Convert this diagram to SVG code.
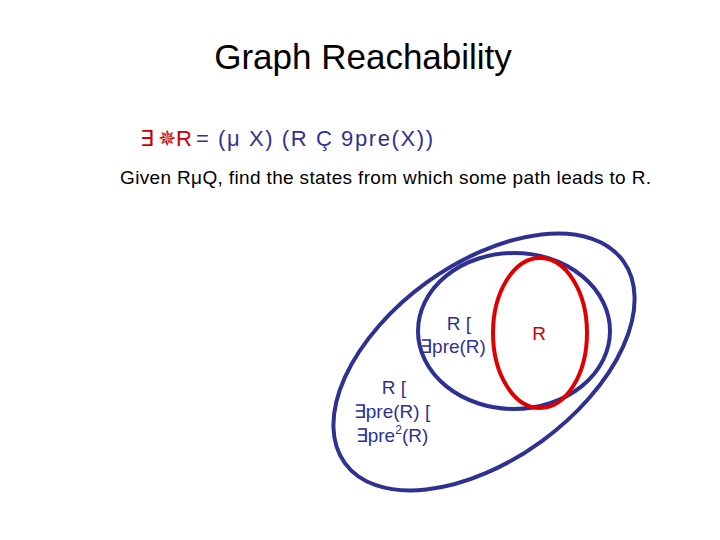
<svg xmlns="http://www.w3.org/2000/svg" width="720" height="540" viewBox="0 0 720 540">
<style>
text{font-family:"Liberation Sans",Arial,sans-serif}
.b{fill:none;stroke:#2e3192;stroke-width:4}
.l{font-size:19px;fill:#2e3192}
</style>
<rect width="720" height="540" fill="#fff"/>
<text x="363" y="69" font-size="35" text-anchor="middle">Graph Reachability</text>
<text x="140" y="146" font-size="22" fill="#cc0000">∃</text>
<text x="158" y="146" font-size="22" fill="#cc0000">✵R</text>
<text x="196" y="146" font-size="22" fill="#2e3192">=</text>
<text x="218" y="146" font-size="22" fill="#2e3192" textLength="215">(μ X) (R Ç 9pre(X))</text>
<text x="120" y="184" font-size="19" textLength="531">Given RμQ, find the states from which some path leads to R.</text>
<g id="outer"><ellipse class="b" cx="484" cy="362" rx="172" ry="98" transform="rotate(-36 484 362)"/></g>
<g id="middle"><ellipse class="b" cx="514" cy="331" rx="96" ry="78"/></g>
<g id="red"><ellipse cx="540" cy="333" rx="47" ry="75" fill="none" stroke="#e00000" stroke-width="4"/></g>
<text class="l" x="459" y="330" text-anchor="middle">R [</text>
<text class="l" x="453" y="353" text-anchor="middle">∃pre(R)</text>
<text class="l" x="394" y="394" text-anchor="middle">R [</text>
<text class="l" x="392" y="418" text-anchor="middle">∃pre(R) [</text>
<text class="l" x="392" y="442" text-anchor="middle">∃pre<tspan font-size="12" dy="-8">2</tspan><tspan dy="8">(R)</tspan></text>
<text class="l" x="539" y="340" text-anchor="middle" style="fill:#cc0000">R</text>
</svg>
